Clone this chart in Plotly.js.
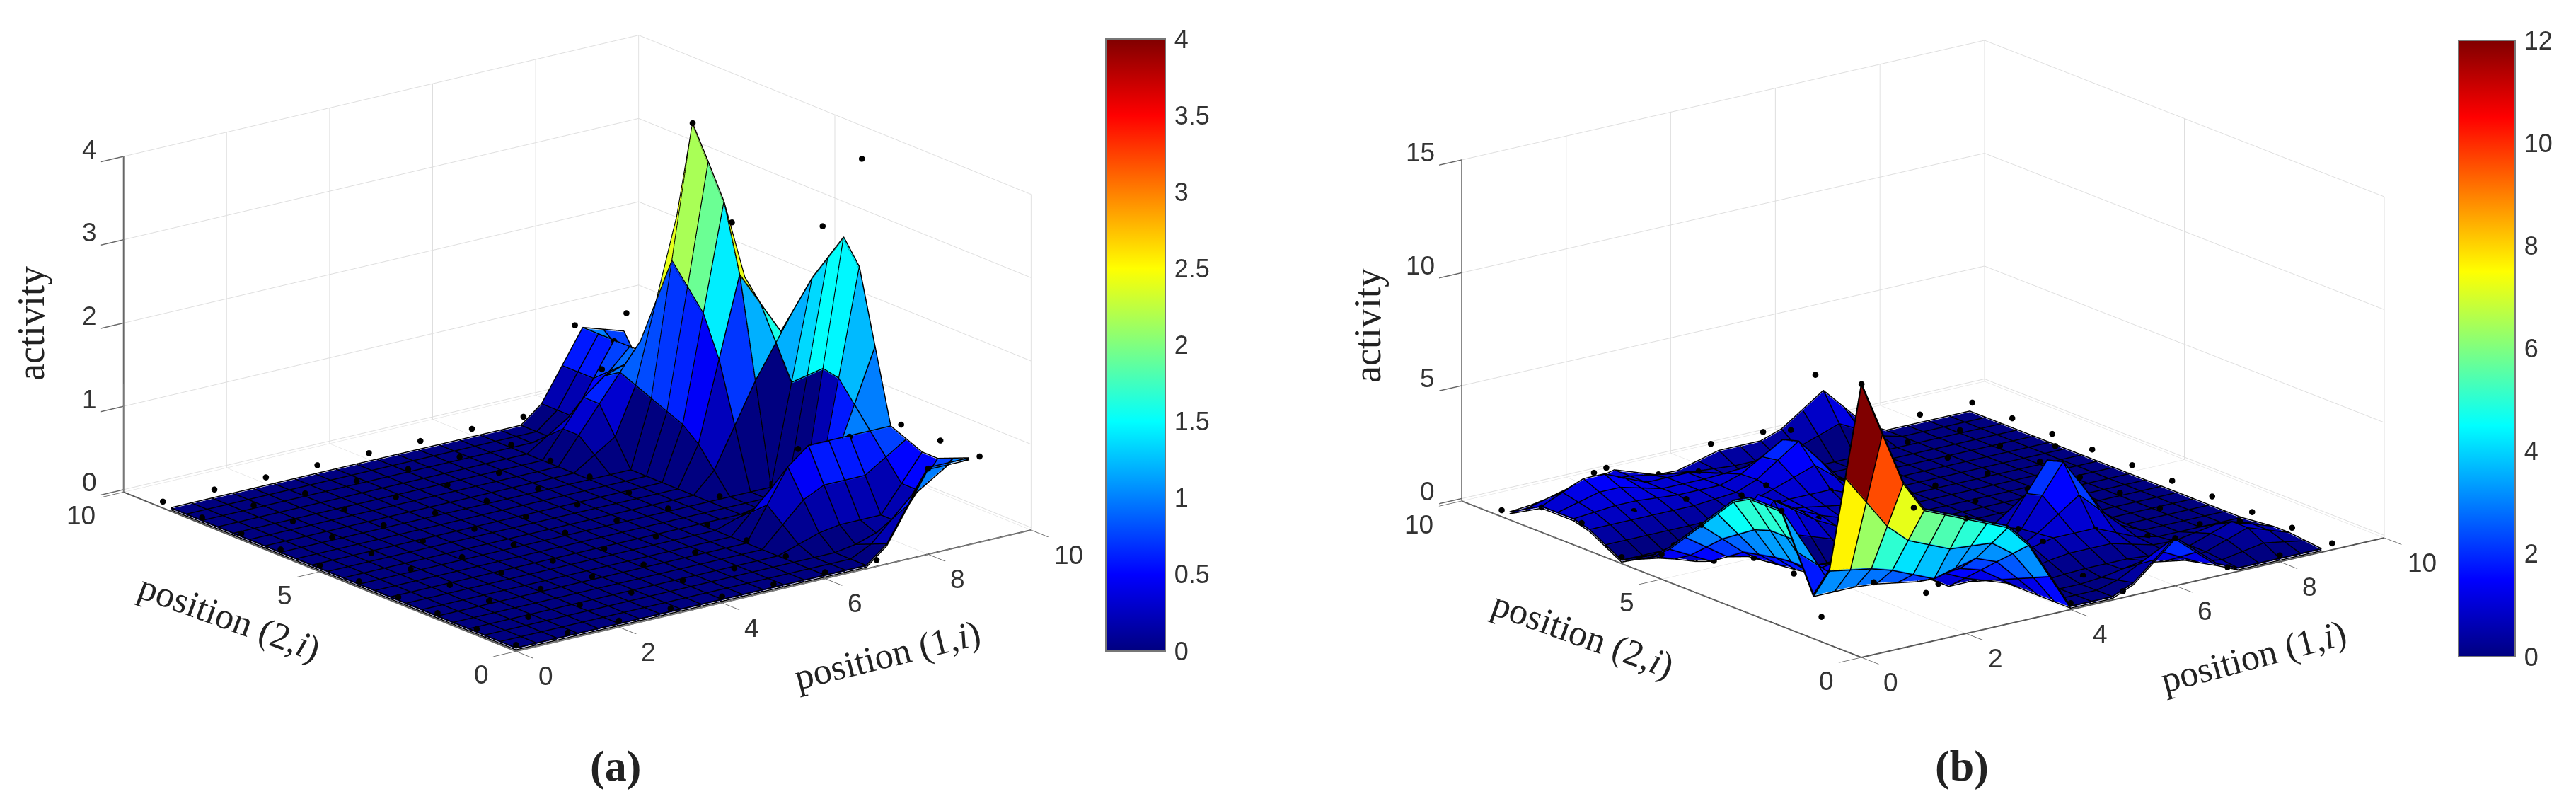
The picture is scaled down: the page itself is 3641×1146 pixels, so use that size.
<!DOCTYPE html>
<html><head><meta charset="utf-8">
<script src="https://cdn.plot.ly/plotly-3.0.1.min.js"></script>
<style>html,body{margin:0;padding:0;background:#fff}#chart{width:3641px;height:1146px}</style>
</head><body><div id="chart"></div>
<script>
// node positions of the dots
const nodePos = [0,1,2,3,4,5,6,7,8,9];
// activity read at each dot; rows are position(2,i), columns position(1,i)
const dotsA = [
 [0,0,0,0,0,0,0,0,1,1],
 [0,0,0,0,0,0,0,0,0,1],
 [0,0,0,0,0,0,0,1,1,1],
 [0,0,0,0,0,0,0,0,0,4],
 [0,0,0,0,0,0,0,0,0,3],
 [0,0,0,0,0,0,0,0,3,1],
 [0,0,0,0,0,0,0,0,4,0],
 [0,0,0,0,0,0,0,1,1,0],
 [0,0,0,0,0,0,0,0,1,0],
 [0,0,0,0,0,0,0,0,1,1]];
const dotsB = [
 [12,6,5,4,0,0,2,0,0,0],
 [1,2,1,2,0,0,0,0,1,0],
 [5,1,3,0,0,1,1,0,0,0],
 [5,1,1,0,0,0,4,0,0,0],
 [3,1,0,0,0,0,0,0,0,0],
 [1,0,3,1,0,0,0,0,0,0],
 [0,0,0,1,1,0,0,0,0,0],
 [1,1,1,1,3,0,0,0,0,0],
 [1,2,1,1,0,0,0,0,0,0],
 [0,0,1,0,1,1,3,0,0,0]];
// surface sample positions
const gridPos = [0,.4,.8,1.2,1.6,2,2.4,2.8,3.2,3.6,4,4.4,4.8,5.2,5.6,6,6.4,6.8,7.2,7.6,8,8.4,8.8];
// surface heights, panel (a)
const surfA = [
 [0,0,0,0,0,0,0,0,0,0,0,0,0,0,0,0,0,0,.2,.6,1,1,1],
 [0,0,0,0,0,0,0,0,0,0,0,0,0,0,0,0,0,0,.12,.36,.6,.76,.92],
 [0,0,0,0,0,0,0,0,0,0,0,0,0,0,0,0,0,0,.04,.12,.2,.52,.84],
 [0,0,0,0,0,0,0,0,0,0,0,0,0,0,0,0,.08,.16,.2,.2,.2,.52,.84],
 [0,0,0,0,0,0,0,0,0,0,0,0,0,0,0,0,.24,.48,.6,.6,.6,.76,.92],
 [0,0,0,0,0,0,0,0,0,0,0,0,0,0,0,0,.4,.8,1,1,1,1,1],
 [0,0,0,0,0,0,0,0,0,0,0,0,0,0,0,0,.24,.48,.6,.6,.6,1.24,1.88],
 [0,0,0,0,0,0,0,0,0,0,0,0,0,0,0,0,.08,.16,.2,.2,.2,1.48,2.76],
 [0,0,0,0,0,0,0,0,0,0,0,0,0,0,0,0,0,0,0,0,0,1.52,3.04],
 [0,0,0,0,0,0,0,0,0,0,0,0,0,0,0,0,0,0,0,0,0,1.36,2.72],
 [0,0,0,0,0,0,0,0,0,0,0,0,0,0,0,0,0,0,0,0,0,1.2,2.4],
 [0,0,0,0,0,0,0,0,0,0,0,0,0,0,0,0,0,0,.24,.72,1.2,1.6,2],
 [0,0,0,0,0,0,0,0,0,0,0,0,0,0,0,0,0,0,.48,1.44,2.4,2,1.6],
 [0,0,0,0,0,0,0,0,0,0,0,0,0,0,0,0,0,0,.64,1.92,3.2,2.24,1.28],
 [0,0,0,0,0,0,0,0,0,0,0,0,0,0,0,0,0,0,.72,2.16,3.6,2.32,1.04],
 [0,0,0,0,0,0,0,0,0,0,0,0,0,0,0,0,0,0,.8,2.4,4,2.4,.8],
 [0,0,0,0,0,0,0,0,0,0,0,0,0,0,0,0,.16,.32,.88,1.84,2.8,1.68,.56],
 [0,0,0,0,0,0,0,0,0,0,0,0,0,0,0,0,.32,.64,.96,1.28,1.6,.96,.32],
 [0,0,0,0,0,0,0,0,0,0,0,0,0,0,0,0,.32,.64,.84,.92,1,.6,.2],
 [0,0,0,0,0,0,0,0,0,0,0,0,0,0,0,0,.16,.32,.52,.76,1,.6,.2],
 [0,0,0,0,0,0,0,0,0,0,0,0,0,0,0,0,0,0,.2,.6,1,.6,.2],
 [0,0,0,0,0,0,0,0,0,0,0,0,0,0,0,0,0,0,.2,.6,1,.76,.52],
 [0,0,0,0,0,0,0,0,0,0,0,0,0,0,0,0,0,0,.2,.6,1,.92,.84]];
// surface heights, panel (b)
const surfB = [
 [12,9.6,7.2,5.8,5.4,5,4.6,4.2,3.2,1.6,0,0,0,.4,1.2,2,1.2,.4,0,0,0,0,0],
 [7.6,6.32,5.04,4.2,3.8,3.4,3.32,3.24,2.56,1.28,0,0,0,.24,.72,1.2,.72,.24,.08,.24,.4,.24,.08],
 [3.2,3.04,2.88,2.6,2.2,1.8,2.04,2.28,1.92,.96,0,0,0,.08,.24,.4,.24,.08,.16,.48,.8,.48,.16],
 [1.8,1.8,1.8,1.72,1.56,1.4,1.48,1.56,1.28,.64,0,.08,.16,.2,.2,.2,.12,.04,.16,.48,.8,.48,.16],
 [3.4,2.6,1.8,1.56,1.88,2.2,1.64,1.08,.64,.32,0,.24,.48,.6,.6,.6,.36,.12,.08,.24,.4,.24,.08],
 [5,3.4,1.8,1.4,2.2,3,1.8,.6,0,0,0,.4,.8,1,1,1,.6,.2,0,0,0,0,0],
 [5,3.4,1.8,1.24,1.72,2.2,1.32,.44,0,0,0,.24,.48,.92,1.56,2.2,1.32,.44,0,0,0,0,0],
 [5,3.4,1.8,1.08,1.24,1.4,.84,.28,0,0,0,.08,.16,.84,2.12,3.4,2.04,.68,0,0,0,0,0],
 [4.6,3.16,1.72,.96,.88,.8,.48,.16,0,0,0,0,0,.64,1.92,3.2,1.92,.64,0,0,0,0,0],
 [3.8,2.68,1.56,.88,.64,.4,.24,.08,0,0,0,0,0,.32,.96,1.6,.96,.32,0,0,0,0,0],
 [3,2.2,1.4,.8,.4,0,0,0,0,0,0,0,0,0,0,0,0,0,0,0,0,0,0],
 [2.2,1.56,.92,.72,.96,1.2,.88,.56,.32,.16,0,0,0,0,0,0,0,0,0,0,0,0,0],
 [1.4,.92,.44,.64,1.52,2.4,1.76,1.12,.64,.32,0,0,0,0,0,0,0,0,0,0,0,0,0],
 [.8,.48,.16,.48,1.44,2.4,1.84,1.28,.84,.52,.2,.12,.04,0,0,0,0,0,0,0,0,0,0],
 [.4,.24,.08,.24,.72,1.2,1.12,1.04,.92,.76,.6,.36,.12,0,0,0,0,0,0,0,0,0,0],
 [0,0,0,0,0,0,.4,.8,1,1,1,.6,.2,0,0,0,0,0,0,0,0,0,0],
 [.4,.4,.4,.4,.4,.4,.64,.88,1.16,1.48,1.8,1.08,.36,0,0,0,0,0,0,0,0,0,0],
 [.8,.8,.8,.8,.8,.8,.88,.96,1.32,1.96,2.6,1.56,.52,0,0,0,0,0,0,0,0,0,0],
 [1,1.08,1.16,1.16,1.08,1,1,1,1.28,1.84,2.4,1.44,.48,0,0,0,0,0,0,0,0,0,0],
 [1,1.24,1.48,1.48,1.24,1,1,1,1.04,1.12,1.2,.72,.24,0,0,0,0,0,0,0,0,0,0],
 [1,1.4,1.8,1.8,1.4,1,1,1,.8,.4,0,0,0,0,0,0,0,0,0,0,0,0,0],
 [.6,.84,1.08,1.16,1.08,1,.84,.68,.56,.48,.4,.4,.4,.56,.88,1.2,.72,.24,0,0,0,0,0],
 [.2,.28,.36,.52,.76,1,.68,.36,.32,.56,.8,.8,.8,1.12,1.76,2.4,1.44,.48,0,0,0,0,0]];
const colorTicksA = [0,.5,1,1.5,2,2.5,3,3.5,4];
const colorTicksB = [0,2,4,6,8,10,12];
const xTicks = [0,2,4,6,8,10];
const yTicks = [0,5,10];
const zTicksA = [0,1,2,3,4];
const zTicksB = [0,5,10,15];
const jet = [[0,'rgb(0,0,128)'],[.125,'rgb(0,0,255)'],[.375,'rgb(0,255,255)'],[.625,'rgb(255,255,0)'],[.875,'rgb(255,0,0)'],[1,'rgb(128,0,0)']];

const W=3641,H=1146;
function panelTraces(sc, surf, dots, cmax, zTop, ticks, cb){
  const n=gridPos.length, vx=[],vy=[],vz=[],I=[],J=[],K=[],cell=[];
  surf.forEach((row,r)=>row.forEach((v,c)=>{vx.push(gridPos[c]);vy.push(gridPos[r]);vz.push(v);}));
  for(let r=0;r<n-1;r++)for(let c=0;c<n-1;c++){
    const a=r*n+c,b=a+1,d=a+n,e=d+1;
    I.push(a,a);J.push(b,e);K.push(e,d);
    cell.push(surf[r][c],surf[r][c]);
  }
  const eps=zTop*0.003;
  function wire(off){
    const lx=[],ly=[],lz=[];
    const h=v=>Math.min(v+off,zTop);
    for(let r=0;r<n;r++){for(let c=0;c<n;c++){lx.push(gridPos[c]);ly.push(gridPos[r]);lz.push(h(surf[r][c]));}lx.push(null);ly.push(null);lz.push(null);}
    for(let c=0;c<n;c++){for(let r=0;r<n;r++){lx.push(gridPos[c]);ly.push(gridPos[r]);lz.push(h(surf[r][c]));}lx.push(null);ly.push(null);lz.push(null);}
    return {type:'scatter3d',scene:sc,mode:'lines',x:lx,y:ly,z:lz,line:{color:'#000',width:3},hoverinfo:'skip',showlegend:false};
  }
  const dx=[],dy=[],dz=[];
  dots.forEach((row,r)=>row.forEach((v,c)=>{dx.push(nodePos[c]);dy.push(nodePos[r]);dz.push(v);}));
  return [
   {type:'mesh3d',scene:sc,x:vx,y:vy,z:vz,i:I,j:J,k:K,intensity:cell,intensitymode:'cell',colorscale:jet,cmin:0,cmax:cmax,
    flatshading:true,lighting:{ambient:1,diffuse:0,specular:0,roughness:1,fresnel:0},hoverinfo:'skip',
    colorbar:Object.assign({lenmode:'fraction',xanchor:'left',yanchor:'top',thicknessmode:'pixels',xpad:0,ypad:0,
      tickmode:'array',tickvals:ticks,ticktext:ticks.map(String),ticks:'outside',ticklen:5,tickcolor:'rgba(0,0,0,0)',outlinecolor:'#777',outlinewidth:2,
      tickfont:{family:'Liberation Sans',size:36,color:'#333'}},cb)},
   wire(eps),wire(-eps),
   {type:'scatter3d',scene:sc,mode:'markers',x:dx,y:dy,z:dz.map(v=>v===0?v+4*eps:v),marker:{color:'#000',size:5},hoverinfo:'skip',showlegend:false}
  ];
}
function axis(range,tickv){
  return {range:range,autorange:false,tickmode:'array',tickvals:tickv,ticktext:tickv.map(String),title:{text:''},showticklabels:false,
    showbackground:false,showspikes:false,gridcolor:'#dedede',gridwidth:2,zeroline:false,showline:true,linecolor:'#555',linewidth:4,
    ticks:'outside',ticklen:40,tickcolor:'#666',tickwidth:3};
}
function tickNote(x,y,z,t,dx,dy){
  return {x:x,y:y,z:z,text:String(t),showarrow:false,xanchor:'center',yanchor:'middle',xshift:dx,yshift:-dy,
    font:{family:'Liberation Sans',size:37,color:'#333'}};
}
function tickNotes(zt){
  return [].concat(
    xTicks.map(v=>tickNote(v,0,0,v,v===10?53:42,39)),
    yTicks.map(v=>tickNote(0,v,0,v,v===10?-60:-49,37)),
    zt.map(v=>tickNote(0,10,v,v,v>=10?-58:-48,-10)));
}
function scene(x0,x1,y0,y1,a,el,k,zr,zt,za){
  const ra=a*Math.PI/180,re=el*Math.PI/180;
  return {domain:{x:[x0/W,x1/W],y:[1-y1/H,1-y0/H]},aspectmode:'manual',aspectratio:{x:k,y:k,z:za*k},
    camera:{projection:{type:'orthographic'},center:{x:0,y:0,z:0},up:{x:0,y:0,z:1},
      eye:{x:-Math.sin(ra)*Math.cos(re)*1.6,y:-Math.cos(ra)*Math.cos(re)*1.6,z:Math.sin(re)*1.6}},
    xaxis:axis([0,10],xTicks),yaxis:axis([0,10],yTicks),zaxis:axis(zr,zt),annotations:tickNotes(zt)};
}
function label(t,x,y,ang,size){
  return {text:t,xref:'paper',yref:'paper',x:x/W,y:1-y/H,xanchor:'center',yanchor:'middle',showarrow:false,textangle:ang,
    font:{family:'Liberation Serif',size:size,color:'#222'}};
}
const data=[].concat(
 panelTraces('scene',surfA,dotsA,4,4,colorTicksA,{x:1563/W,y:1-55/H,len:865/H,thickness:84}),
 panelTraces('scene2',surfB,dotsB,12,15,colorTicksB,{x:3475/W,y:1-57/H,len:871/H,thickness:80})
);
const layout={width:W,height:H,margin:{l:0,r:0,t:0,b:0},paper_bgcolor:'#fff',showlegend:false,
 scene:scene(66,1566,0,970,37.3,18,1.887,[-0.03,4],zTicksA,.545),
 scene2:scene(1968,3468,0,986,37.4,17.4,1.887,[-0.11,15],zTicksB,.543),
 annotations:[
  label('activity',44,457,-90,54),
  label('position (2,<i>i</i>)',324,873,20,52),
  label('position (1,<i>i</i>)',1254,926,-14,52),
  label('<b>(a)</b>',870,1082,0,62),
  label('activity',1933,460,-90,54),
  label('position (2,<i>i</i>)',2237,897,20,52),
  label('position (1,<i>i</i>)',3185,928,-15,52),
  label('<b>(b)</b>',2773,1082,0,62)
 ]};
Plotly.newPlot('chart',data,layout,{displayModeBar:false});
</script></body></html>
